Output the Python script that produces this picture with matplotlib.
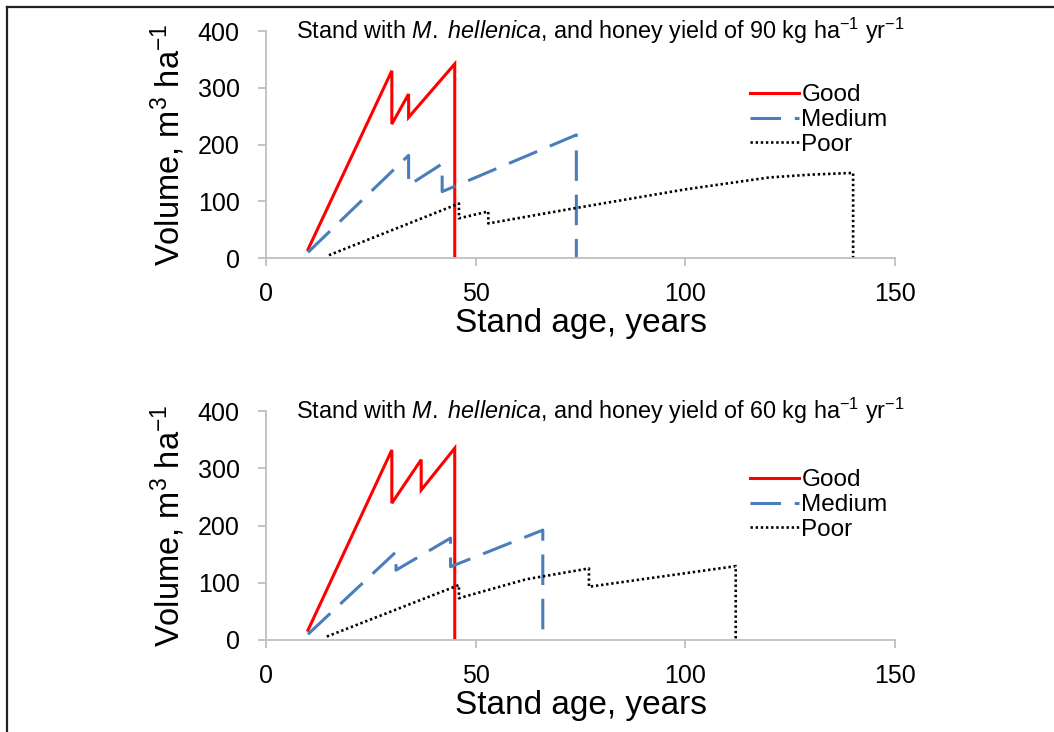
import numpy as np
import matplotlib
matplotlib.use("Agg")
import matplotlib.pyplot as plt
from matplotlib.lines import Line2D

plt.rcParams['font.family'] = ['Liberation Sans', 'DejaVu Sans']
plt.rcParams['mathtext.fontset'] = 'custom'
plt.rcParams['mathtext.rm'] = 'Liberation Sans'
plt.rcParams['mathtext.it'] = 'Liberation Sans:italic'

# honey yield 90 kg/ha/yr
good_x_90 = [10, 30, 30, 34, 34, 45, 45]
good_y_90 = [15, 330, 236, 289, 248, 342, 0]
medium_x_90 = [10, 34, 34, 42, 42, 74, 74]
medium_y_90 = [10, 181, 128, 166, 117, 217, 0]
poor_x_90 = [15, 46, 46, 53, 53, 73, 100, 120, 130, 140, 140]
poor_y_90 = [5, 96, 70, 82, 61, 87, 121, 142, 147, 150, 0]

# honey yield 60 kg/ha/yr
good_x_60 = [10, 30, 30, 37, 37, 45, 45]
good_y_60 = [17, 332, 239, 315, 262, 335, 0]
medium_x_60 = [10, 31, 31, 44, 44, 66, 66]
medium_y_60 = [10, 154, 122, 178, 128, 192, 0]
poor_x_60 = [14.5, 46, 46, 62, 77, 77, 112, 112]
poor_y_60 = [6, 96, 73, 106, 125, 93, 129, 0]

yields = [90, 60]
x_ticks = [0, 50, 100, 150]
y_ticks = [0, 100, 200, 300, 400]

fig = plt.figure(figsize=(10.54, 7.32), dpi=100)
axes = [fig.add_axes([0.2524, 0.6475, 0.5968, 0.3101]),
        fig.add_axes([0.2524, 0.1257, 0.5968, 0.3128])]

data = [(good_x_90, good_y_90, medium_x_90, medium_y_90, poor_x_90, poor_y_90),
        (good_x_60, good_y_60, medium_x_60, medium_y_60, poor_x_60, poor_y_60)]
leg_y = [0.608, 0.5895]

grey = '#bfbfbf'
for ax, d, hy, ly in zip(axes, data, yields, leg_y):
    gx, gy, mx, my, px, py = d
    ax.plot(gx, gy, color='#ff0000', lw=2.2, label='Good', solid_joinstyle='miter')
    ax.plot(mx, my, color='#4a7ebb', lw=2.2, dashes=(10, 4.5), label='Medium')
    ax.plot(px, py, color='black', lw=1.9, dashes=(0.9, 1.05), label='Poor')

    ax.set_xlim(0, 150)
    ax.set_ylim(0, 400)
    ax.set_xticks(x_ticks)
    ax.set_yticks(y_ticks)
    for s in ['top', 'right']:
        ax.spines[s].set_visible(False)
    for s in ['left', 'bottom']:
        ax.spines[s].set_color(grey)
        ax.spines[s].set_linewidth(1.3)
    ax.tick_params(axis='both', colors=grey, length=6, width=1.3,
                   labelcolor='black', labelsize=18, pad=11)
    ax.tick_params(axis='y', pad=13)

    ax.set_xlabel('Stand age, years', fontsize=24, labelpad=2)
    ax.set_ylabel(r'Volume, m$^3$ ha$^{-1}$', fontsize=23.5, labelpad=8)

    ax.text(0.048, 1.0,
            r'Stand with $\mathit{M.}$ $\mathit{hellenica}$, and honey yield of '
            + str(hy) + r' kg ha$^{-1}$ yr$^{-1}$',
            transform=ax.transAxes, fontsize=16.8, va='center', ha='left')

    ax.legend(loc='center left', bbox_to_anchor=(0.77, ly), frameon=False,
              fontsize=17.5, handlelength=2.0, handletextpad=0.1,
              labelspacing=0.12, borderpad=0, borderaxespad=0)

# outer frame on the left and top
fig.add_artist(Line2D([7 / 1054, 7 / 1054], [0, 1 - 7 / 732], color='#222222',
                      lw=1.6, transform=fig.transFigure))
fig.add_artist(Line2D([7 / 1054, 1], [1 - 7 / 732, 1 - 7 / 732], color='#222222',
                      lw=1.6, transform=fig.transFigure))

fig.savefig('out.png', dpi=100)
